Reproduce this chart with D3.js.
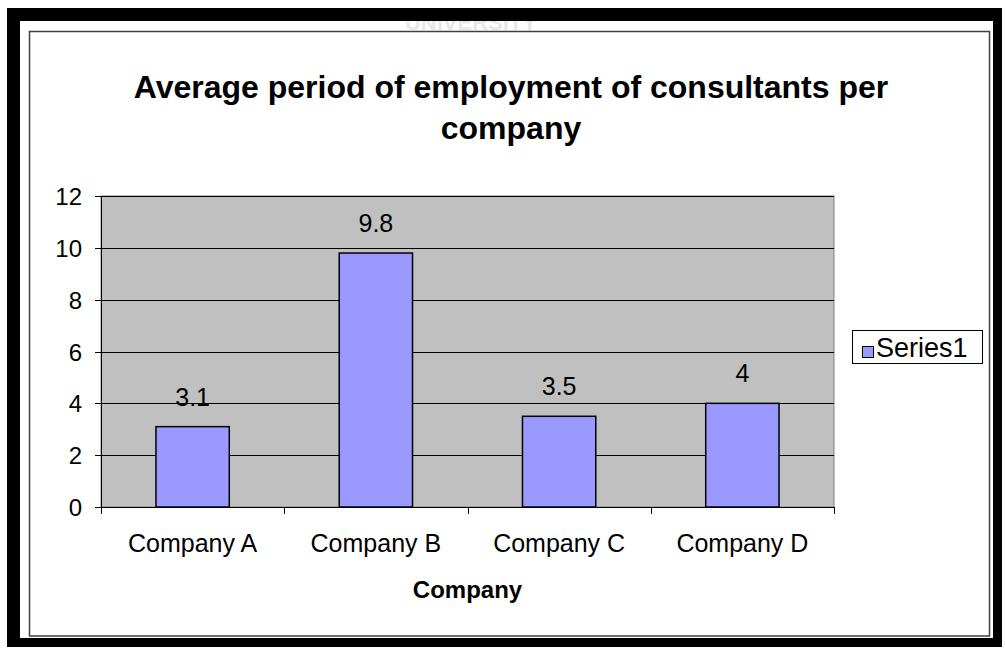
<!DOCTYPE html>
<html>
<head>
  <meta charset="utf-8">
  <script src="https://d3js.org/d3.v7.min.js"></script>
  <title>Average period of employment</title>
  <style>
    body { margin: 0; background: #ffffff; }
    text { font-family: "Liberation Sans", Arial, sans-serif; fill: #000; }
    .axis path, .axis line { stroke: #000; shape-rendering: crispEdges; }
  </style>
</head>
<body>
<div id="chart"></div>
<script>

var categories = ["Company A", "Company B", "Company C", "Company D"];
var values = [3.1, 9.8, 3.5, 4];
var yTicks = [0, 2, 4, 6, 8, 10, 12];
var seriesName = "Series1";
var titleLines = ["Average period of employment of consultants per", "company"];
var xTitle = "Company";

var W = 1005, H = 649;
var plot = {left: 101, right: 834, top: 196, bottom: 507};

var svg = d3.select("#chart").append("svg")
    .attr("width", W)
    .attr("height", H);

// faint watermark peeking out under the black band
svg.append("text")
    .attr("x", 471)
    .attr("y", 30)
    .style("text-anchor", "middle")
    .style("font-weight", "bold")
    .style("font-size", "22px")
    .style("fill", "#e8e8e8")
    .text("UNIVERSITY");

// black frame around the chart picture
svg.append("path")
    .attr("fill-rule", "evenodd")
    .attr("fill", "#000")
    .attr("d", "M7,8H1002V647H7Z M20,21V638H993V21Z");

svg.append("rect")
    .attr("x", 29.5).attr("y", 31.5)
    .attr("width", 960).attr("height", 604.5)
    .attr("fill", "none")
    .attr("stroke", "#404040")
    .attr("stroke-width", 1.5);

var x = d3.scaleBand().domain(categories).range([plot.left, plot.right]).paddingInner(0).paddingOuter(0);
var y = d3.scaleLinear().domain([0, 12]).range([plot.bottom, plot.top]);

svg.append("rect")
    .attr("x", plot.left).attr("y", plot.top)
    .attr("width", plot.right - plot.left).attr("height", plot.bottom - plot.top)
    .attr("fill", "#c0c0c0")
    .attr("stroke", "#808080")
    .attr("stroke-width", 1);

svg.selectAll(".grid")
    .data(yTicks.filter(function(d) { return d > 0; }))
  .enter().append("line")
    .attr("class", "grid")
    .attr("x1", plot.left).attr("x2", plot.right)
    .attr("y1", function(d) { return Math.round(y(d)) + 0.5; })
    .attr("y2", function(d) { return Math.round(y(d)) + 0.5; })
    .attr("stroke", "#000")
    .attr("stroke-width", 1);

var barW = x.bandwidth() / 2.5;

svg.selectAll(".bar")
    .data(values)
  .enter().append("rect")
    .attr("class", "bar")
    .attr("x", function(d, i) { return x(categories[i]) + (x.bandwidth() - barW) / 2; })
    .attr("y", function(d) { return y(d); })
    .attr("width", barW)
    .attr("height", function(d) { return y(0) - y(d); })
    .attr("fill", "#9999ff")
    .attr("stroke", "#000")
    .attr("stroke-width", 1.5);

svg.selectAll(".val")
    .data(values)
  .enter().append("text")
    .attr("class", "val")
    .attr("x", function(d, i) { return x(categories[i]) + x.bandwidth() / 2; })
    .attr("y", function(d) { return y(d) - 21; })
    .style("text-anchor", "middle")
    .style("font-size", "25px")
    .text(function(d) { return d; });

// y axis
var yAxis = svg.append("g")
    .attr("class", "axis")
    .attr("transform", "translate(" + plot.left + ",0)")
    .call(d3.axisLeft(y).tickValues(yTicks).tickSize(6).tickPadding(13).tickFormat(d3.format("d")));
yAxis.selectAll("text").style("font-size", "24px").attr("dy", "0.36em");

// x axis, ticks sit on the category boundaries
var xAxis = svg.append("g")
    .attr("class", "axis")
    .attr("transform", "translate(0," + plot.bottom + ")")
    .call(d3.axisBottom(x).tickSize(0).tickPadding(45));
xAxis.select(".domain").attr("d", "M" + plot.left + ",0H" + plot.right);
xAxis.selectAll("text").style("font-size", "25px").attr("dy", "0");

svg.selectAll(".xtick")
    .data(categories.concat(["end"]))
  .enter().append("line")
    .attr("class", "xtick")
    .attr("x1", function(d, i) { return Math.round(plot.left + i * x.bandwidth()) + 0.5; })
    .attr("x2", function(d, i) { return Math.round(plot.left + i * x.bandwidth()) + 0.5; })
    .attr("y1", plot.bottom).attr("y2", plot.bottom + 7)
    .attr("stroke", "#000");

svg.append("text")
    .attr("x", (plot.left + plot.right) / 2)
    .attr("y", 598)
    .style("text-anchor", "middle")
    .style("font-weight", "bold")
    .style("font-size", "24px")
    .text(xTitle);

// title
svg.selectAll(".title")
    .data(titleLines)
  .enter().append("text")
    .attr("class", "title")
    .attr("x", 511)
    .attr("y", function(d, i) { return 98 + i * 41; })
    .style("text-anchor", "middle")
    .style("font-weight", "bold")
    .style("font-size", "32px")
    .text(function(d) { return d; });

// legend
var legend = svg.append("g");
legend.append("rect")
    .attr("x", 852.5).attr("y", 330.5)
    .attr("width", 130).attr("height", 33)
    .attr("fill", "#fff")
    .attr("stroke", "#000");
legend.append("rect")
    .attr("x", 862.5).attr("y", 346.5)
    .attr("width", 11).attr("height", 11)
    .attr("fill", "#9999ff")
    .attr("stroke", "#000");
legend.append("text")
    .attr("x", 876)
    .attr("y", 357)
    .style("font-size", "27px")
    .text(seriesName);

</script>
</body>
</html>
